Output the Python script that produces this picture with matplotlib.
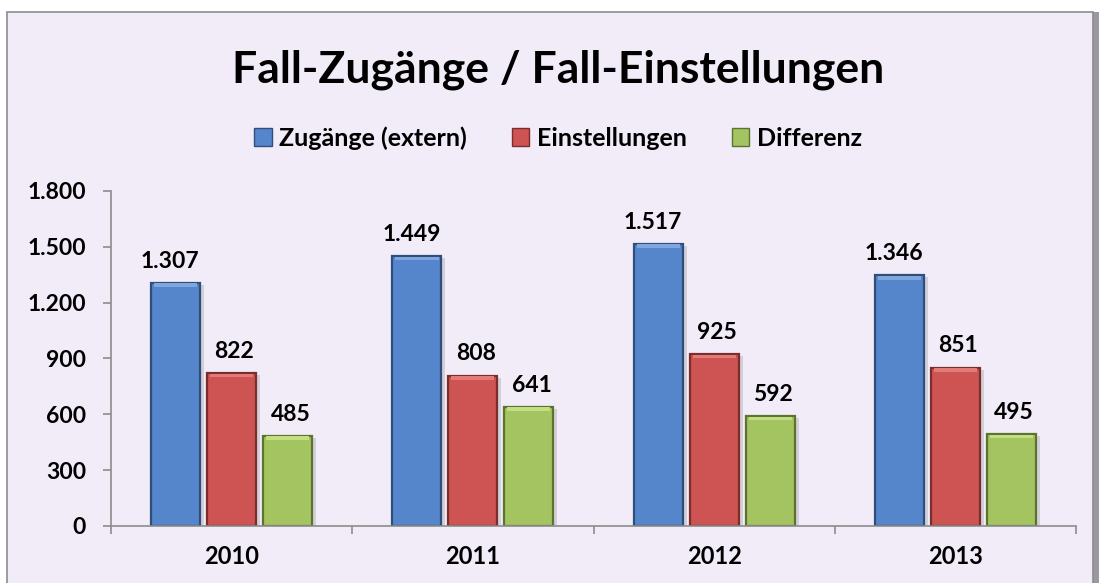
import numpy as np
import matplotlib.pyplot as plt
import matplotlib.patches as mpatches
import matplotlib.transforms as mtransforms

# chart data
years = ["2010", "2011", "2012", "2013"]
zugaenge = [1307, 1449, 1517, 1346]
einstellungen = [822, 808, 925, 851]
differenz = [485, 641, 592, 495]
series_names = ["Zugänge (extern)", "Einstellungen", "Differenz"]
y_ticks = [0, 300, 600, 900, 1200, 1500, 1800]

face_cols = ["#5585CB", "#CD5452", "#A3C460"]
edge_cols = ["#2F4F7A", "#7A2E2C", "#5C7330"]
top_cols = ["#7FA6DE", "#E27A77", "#C2DE80"]
bg = "#F1ECF8"

plt.rcParams['font.family'] = ['Lato', 'DejaVu Sans']


def de_fmt(v):
    return f"{v:,}".replace(",", ".")


fig = plt.figure(figsize=(11.05, 5.83), dpi=100)
fig.patch.set_facecolor("white")

# outer frame with shadow on the right
fig.patches.append(mpatches.Rectangle((0.0095, -0.01), 0.9855, 0.99, transform=fig.transFigure,
                                      facecolor="#9A98A0", edgecolor="none", zorder=-2))
fig.patches.append(mpatches.Rectangle((0.0063, -0.01), 0.9830, 0.9894, transform=fig.transFigure,
                                      facecolor=bg, edgecolor="#8C8C8C", linewidth=1.2, zorder=-1))

ax = fig.add_axes([0.1005, 0.0978, 0.8733, 0.5746])
ax.set_facecolor("none")

x = np.arange(len(years))
w = 0.203
step = 0.232
values = [zugaenge, einstellungen, differenz]

for i, vals in enumerate(values):
    pos = x + (i - 1) * step
    # soft shadow
    shadow = mtransforms.offset_copy(ax.transData, fig=fig, x=4, y=-2, units="dots")
    ax.bar(pos, vals, w, color="#000000", alpha=0.12, transform=shadow, zorder=1)
    ax.bar(pos, vals, w, color=face_cols[i], edgecolor=edge_cols[i], linewidth=1.6, zorder=2,
           label=series_names[i])
    # bevel highlight at the top
    ax.bar(pos, [18 for v in vals], w * 0.88, bottom=[v - 22 for v in vals],
           color=top_cols[i], edgecolor="none", zorder=3)
    for p, v in zip(pos, vals):
        ax.annotate(de_fmt(v), (p, v), xytext=(-4 if i == 0 else 2, 8), textcoords="offset points",
                    ha="center", va="bottom", fontsize=16.5, fontweight="bold", color="black")

ax.set_xlim(-0.5, len(years) - 0.5)
ax.set_ylim(0, 1800)
ax.set_yticks(y_ticks)
ax.set_yticklabels([de_fmt(t) for t in y_ticks], fontsize=16.5, fontweight="bold")
ax.set_xticks(x)
ax.set_xticklabels(years, fontsize=17, fontweight="bold")
ax.set_xticks(np.arange(len(years) + 1) - 0.5, minor=True)
ax.tick_params(axis="x", which="major", length=0, pad=14)
ax.tick_params(axis="x", which="minor", length=6, color="#8C8C8C", width=1.2)
ax.tick_params(axis="y", length=6, color="#8C8C8C", width=1.2, pad=12)
for s in ["top", "right"]:
    ax.spines[s].set_visible(False)
for s in ["left", "bottom"]:
    ax.spines[s].set_color("#8C8C8C")
    ax.spines[s].set_linewidth(1.2)

fig.text(0.505, 0.88, "Fall-Zugänge / Fall-Einstellungen", ha="center", va="center",
         fontsize=32, fontweight="bold")

handles = [mpatches.Patch(facecolor=face_cols[i], edgecolor=edge_cols[i], label=series_names[i])
           for i in range(3)]
fig.legend(handles=handles, loc="center", bbox_to_anchor=(0.505, 0.763), ncol=3, frameon=False,
           prop={"size": 18, "weight": "bold"}, handlelength=0.7, handleheight=0.7,
           handletextpad=0.3, columnspacing=1.8)

fig.savefig("out.png", dpi=100, facecolor=fig.get_facecolor())
